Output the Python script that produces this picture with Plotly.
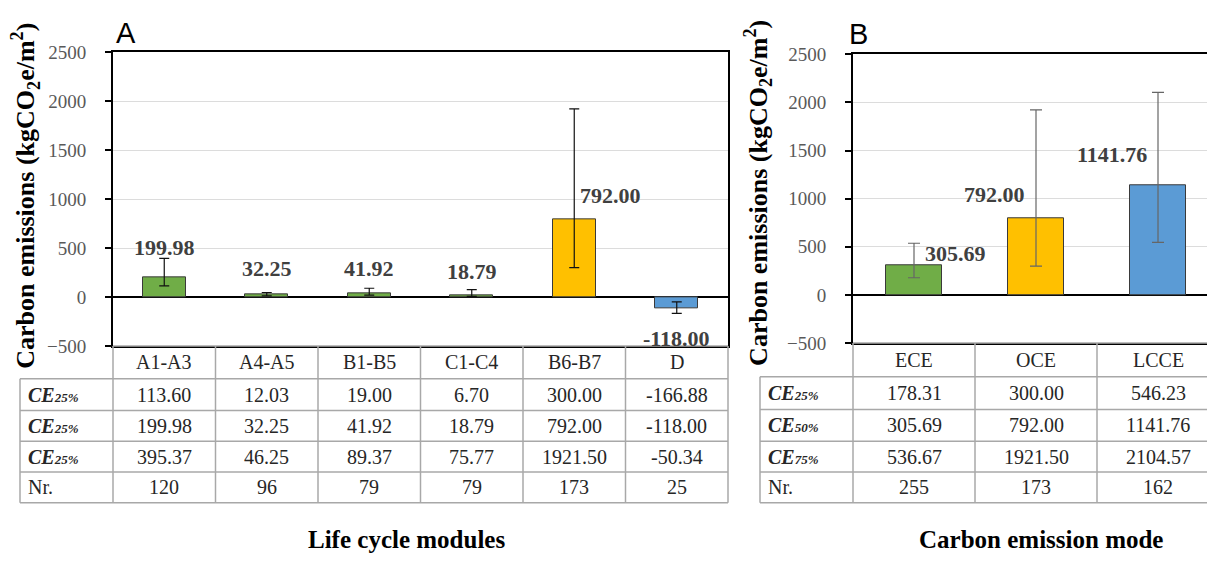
import plotly.graph_objects as go

W, H = 1207, 561

# ---- data: life cycle modules (panel A) ----
modules = ["A1-A3", "A4-A5", "B1-B5", "C1-C4", "B6-B7", "D"]
mod_p25 = [113.60, 12.03, 19.00, 6.70, 300.00, -166.88]
mod_p50 = [199.98, 32.25, 41.92, 18.79, 792.00, -118.00]
mod_p75 = [395.37, 46.25, 89.37, 75.77, 1921.50, -50.34]
mod_n = [120, 96, 79, 79, 173, 25]
mod_colors = ["#70AD47", "#70AD47", "#70AD47", "#70AD47", "#FFC000", "#5B9BD5"]
rows_A = ["CE25%", "CE25%", "CE25%", "Nr."]

# ---- data: carbon emission mode (panel B) ----
modes = ["ECE", "OCE", "LCCE"]
mode_p25 = [178.31, 300.00, 546.23]
mode_p50 = [305.69, 792.00, 1141.76]
mode_p75 = [536.67, 1921.50, 2104.57]
mode_n = [255, 173, 162]
mode_colors = ["#70AD47", "#FFC000", "#5B9BD5"]
rows_B = ["CE25%", "CE50%", "CE75%", "Nr."]

y_ticks = [-500, 0, 500, 1000, 1500, 2000, 2500]

SERIF = "Liberation Serif, Times New Roman, serif"
SANS = "Liberation Sans, Arial, sans-serif"


def px(x):
    return x / W


def py(y):
    return 1 - y / H


fig = go.Figure()

fig.add_trace(go.Bar(
    x=modules, y=mod_p50, xaxis="x", yaxis="y", width=0.42,
    marker=dict(color=mod_colors, line=dict(color="#3a3a3a", width=1)),
    error_y=dict(type="data", symmetric=False,
                 array=[u - m for u, m in zip(mod_p75, mod_p50)],
                 arrayminus=[m - l for m, l in zip(mod_p50, mod_p25)],
                 color="#111111", thickness=1.2, width=5),
    showlegend=False, hoverinfo="x+y",
))

fig.add_trace(go.Bar(
    x=modes, y=mode_p50, xaxis="x2", yaxis="y2", width=0.46,
    marker=dict(color=mode_colors, line=dict(color="#3a3a3a", width=1)),
    error_y=dict(type="data", symmetric=False,
                 array=[u - m for u, m in zip(mode_p75, mode_p50)],
                 arrayminus=[m - l for m, l in zip(mode_p50, mode_p25)],
                 color="#666666", thickness=1.2, width=6),
    showlegend=False, hoverinfo="x+y",
))

# plot area geometry (pixels)
A_left, A_right, A_top, A_bot = 113, 728, 44, 349
B_left, B_top, B_bot = 853, 46, 346
B_colw = 122
B_span = (W - B_left) / B_colw

yaxis_common = dict(
    range=[-500, 2500], tickvals=y_ticks, ticks="outside", ticklen=6,
    tickcolor="black", tickwidth=1.5,
    tickfont=dict(family=SERIF, size=19, color="#595959"),
    showgrid=True, gridcolor="#dcdcdc", gridwidth=1,
    zeroline=True, zerolinecolor="black", zerolinewidth=1.5,
    showline=True, linecolor="black", linewidth=2,
    ticklabelstandoff=15, fixedrange=True,
)

fig.update_layout(
    width=W, height=H, margin=dict(l=0, r=0, t=0, b=0),
    paper_bgcolor="white", plot_bgcolor="white", bargap=0,
    xaxis=dict(domain=[px(A_left), px(A_right)], range=[-0.5, 5.5],
               showticklabels=False, ticks="", showgrid=False,
               showline=True, linecolor="black", linewidth=2, mirror=True,
               fixedrange=True),
    yaxis=dict(domain=[py(A_bot), py(A_top)], anchor="x", mirror=True, **yaxis_common),
    xaxis2=dict(domain=[px(B_left), 1.0], range=[-0.5, -0.5 + B_span],
                showticklabels=False, ticks="", showgrid=False,
                showline=True, linecolor="black", linewidth=2, mirror=True,
                anchor="y2", fixedrange=True),
    yaxis2=dict(domain=[py(B_bot), py(B_top)], anchor="x2", mirror=False, **yaxis_common),
)

annotations = []
shapes = []

# value labels next to the bars: (xanchor, xshift, yshift) relative to the bar end
LBL = dict(family=SERIF, size=22, color="#404040")
lblA = [
    ("center", 0, 30),
    ("center", 0, 25),
    ("center", 0, 24),
    ("center", 0, 24),
    ("left", 4, 24),
    ("center", 0, -30),
]
for cat, v, (xa, xs, ys) in zip(modules, mod_p50, lblA):
    annotations.append(dict(x=cat, y=v, xref="x", yref="y", text=f"<b>{v:.2f}</b>",
                            showarrow=False, xanchor=xa, yanchor="middle", xshift=xs, yshift=ys,
                            font=LBL))
lblB = [
    ("left", 9, 12),
    ("right", -9, 24),
    ("right", -9, 31),
]
for cat, v, (xa, xs, ys) in zip(modes, mode_p50, lblB):
    annotations.append(dict(x=cat, y=v, xref="x2", yref="y2", text=f"<b>{v:.2f}</b>",
                            showarrow=False, xanchor=xa, yanchor="middle", xshift=xs, yshift=ys,
                            font=LBL))

# y axis titles
ytitle = "<b>Carbon emissions (kgCO<sub>2</sub>e/m<sup>2</sup>)</b>"
for xc, yc in [(25, 193), (758, 190)]:
    annotations.append(dict(x=px(xc), y=py(yc), xref="paper", yref="paper", text=ytitle,
                            textangle=-90, showarrow=False, xanchor="center", yanchor="middle",
                            font=dict(family=SERIF, size=26, color="black")))

# panel letters
for letter, xc, yc in [("A", 126, 24), ("B", 858, 25)]:
    annotations.append(dict(x=px(xc), y=py(yc), xref="paper", yref="paper", text=letter,
                            showarrow=False, xanchor="center", yanchor="middle",
                            font=dict(family=SANS, size=29, color="black")))

# bottom titles
for txt, xc in [("Life cycle modules", 406), ("Carbon emission mode", 1041)]:
    annotations.append(dict(x=px(xc), y=py(550), xref="paper", yref="paper", text=f"<b>{txt}</b>",
                            showarrow=False, xanchor="center", yanchor="middle",
                            font=dict(family=SERIF, size=25, color="black")))


# data tables below the plots
GRID = dict(color="#a8a8a8", width=1.5)
CELL = dict(family=SERIF, size=20, color="#262626")


def row_label(s):
    if s.startswith("CE"):
        return f'<b><i>CE<span style="font-size:13px">{s[2:]}</span></i></b>'
    return s


def draw_table(x_label, col_edges, row_edges, cats, rows, values):
    x1 = min(col_edges[-1], W + 20)
    # horizontal rules
    shapes.append(dict(type="line", xref="paper", yref="paper", x0=px(col_edges[0]), x1=px(x1),
                       y0=py(row_edges[0]), y1=py(row_edges[0]), line=GRID))
    for ry in row_edges[1:]:
        shapes.append(dict(type="line", xref="paper", yref="paper", x0=px(x_label), x1=px(x1),
                           y0=py(ry), y1=py(ry), line=GRID))
    # vertical rules
    shapes.append(dict(type="line", xref="paper", yref="paper", x0=px(x_label), x1=px(x_label),
                       y0=py(row_edges[1]), y1=py(row_edges[-1]), line=GRID))
    for cx in col_edges:
        shapes.append(dict(type="line", xref="paper", yref="paper", x0=px(cx), x1=px(cx),
                           y0=py(row_edges[0]), y1=py(row_edges[-1]), line=GRID))
    # header
    for i, c in enumerate(cats):
        xc = (col_edges[i] + col_edges[i + 1]) / 2
        yc = (row_edges[0] + row_edges[1]) / 2
        annotations.append(dict(x=px(xc), y=py(yc), xref="paper", yref="paper", text=c,
                                showarrow=False, xanchor="center", yanchor="middle", font=CELL))
    # body
    for r, (lab, vals) in enumerate(zip(rows, values)):
        yc = (row_edges[r + 1] + row_edges[r + 2]) / 2
        annotations.append(dict(x=px(x_label + 6), y=py(yc), xref="paper", yref="paper",
                                text=row_label(lab), showarrow=False, xanchor="left",
                                yanchor="middle", font=CELL))
        for i, v in enumerate(vals):
            xc = (col_edges[i] + col_edges[i + 1]) / 2
            txt = str(v) if isinstance(v, int) else f"{v:.2f}"
            annotations.append(dict(x=px(xc), y=py(yc), xref="paper", yref="paper", text=txt,
                                    showarrow=False, xanchor="center", yanchor="middle", font=CELL))


colA = [A_left + (A_right - A_left) / 6 * i for i in range(7)]
draw_table(20, colA, [349, 383, 416, 448, 480, 512], modules, rows_A,
           [mod_p25, mod_p50, mod_p75, mod_n])

colB = [B_left + B_colw * i for i in range(4)]
draw_table(760, colB, [346, 381, 415, 448, 480, 512], modes, rows_B,
           [mode_p25, mode_p50, mode_p75, mode_n])

fig.update_layout(annotations=annotations, shapes=shapes)

# the figure fills the whole page, so drop the default body margin
fig.write_html(
    "out.html",
    post_script="document.body.style.margin='0';document.body.style.overflow='hidden';",
)
